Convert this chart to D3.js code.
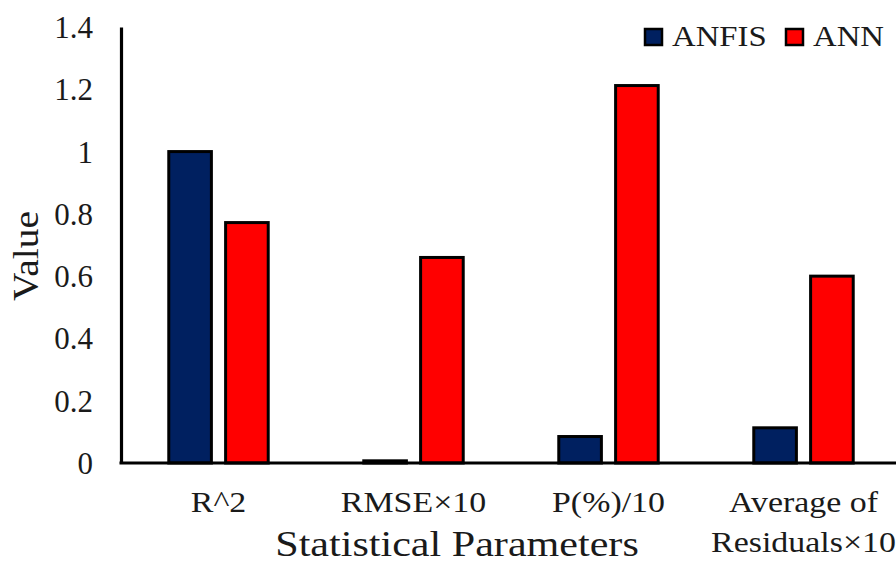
<!DOCTYPE html>
<html>
<head>
<meta charset="utf-8">
<script src="https://cdn.jsdelivr.net/npm/d3@7"></script>
<style>
  body { margin: 0; background: #fff; }
  text { font-family: "Liberation Serif", "Times New Roman", serif; fill: #1a1a1a; }
</style>
</head>
<body>
<script>
// chart data
var categories = ["R^2", "RMSE×10", "P(%)/10", "Average of\nResiduals×10"];
var series = ["ANFIS", "ANN"];
var anfisValues = [1.0, 0.007, 0.085, 0.113];
var annValues = [0.772, 0.66, 1.212, 0.60];
var yTicks = [0, 0.2, 0.4, 0.6, 0.8, 1.0, 1.2, 1.4];
var colors = {ANFIS: "#002060", ANN: "#ff0000"};

var W = 896, H = 561;
var plotLeft = 121, plotRight = 901, plotTop = 27, plotBottom = 463;
var stretch = 1.13; // text in the source is a little wide

var rows = categories.map(function(c, i) {
  return {cat: c, ANFIS: anfisValues[i], ANN: annValues[i]};
});

var svg = d3.select("body").append("svg")
    .attr("width", W)
    .attr("height", H);

var x = d3.scaleBand()
    .domain(categories)
    .range([plotLeft, plotRight])
    .paddingInner(0.49)
    .paddingOuter(0.245);

var xs = d3.scaleBand()
    .domain(series)
    .range([0, x.bandwidth()])
    .paddingInner(0.25);

var y = d3.scaleLinear()
    .domain([0, 1.4])
    .range([plotBottom, plotTop]);

//bars
var groups = svg.selectAll("g.grp")
    .data(rows).enter()
  .append("g")
    .attr("class", "grp")
    .attr("transform", function(d) { return "translate(" + x(d.cat) + ",0)"; });

groups.selectAll("rect")
    .data(function(d) { return series.map(function(s) { return {s: s, v: d[s]}; }); })
    .enter().append("rect")
    .attr("x", function(d) { return xs(d.s); })
    .attr("y", function(d) { return y(d.v); })
    .attr("width", xs.bandwidth())
    .attr("height", function(d) { return y(0) - y(d.v); })
    .attr("fill", function(d) { return colors[d.s]; })
    .attr("stroke", "#000")
    .attr("stroke-width", 3);

//y axis
var yAxis = svg.append("g")
    .attr("transform", "translate(" + plotLeft + ",0)")
    .call(d3.axisLeft(y).tickValues(yTicks).tickFormat(d3.format("~g"))
      .tickSize(0).tickSizeOuter(0).tickPadding(28));
yAxis.select(".domain").attr("stroke", "#000").attr("stroke-width", 3.2);
yAxis.selectAll("text")
    .attr("fill", "#1a1a1a")
    .style("font-family", "'Liberation Serif', serif")
    .style("font-size", "31px")
    .attr("dy", "0.34em");

//baseline
svg.append("line")
    .attr("x1", plotLeft - 1.5).attr("x2", W + 5)
    .attr("y1", y(0)).attr("y2", y(0))
    .attr("stroke", "#000")
    .attr("stroke-width", 3);

//category labels
var catLabels = svg.selectAll("text.cat")
    .data(categories).enter()
  .append("text")
    .attr("class", "cat")
    .attr("text-anchor", "middle")
    .style("font-size", "30px")
    .attr("transform", function(d) {
      return "translate(" + (x(d) + x.bandwidth() / 2) + ",512) scale(" + stretch + ",1)";
    });
catLabels.selectAll("tspan")
    .data(function(d) { return d.split("\n"); })
    .enter().append("tspan")
    .attr("x", 0)
    .attr("dy", function(d, i) { return i === 0 ? 0 : 40; })
    .text(function(d) { return d; });

//axis titles
svg.append("text")
    .attr("text-anchor", "middle")
    .style("font-size", "36px")
    .attr("transform", "translate(457,556) scale(1.17,1)")
    .text("Statistical Parameters");

svg.append("text")
    .attr("text-anchor", "middle")
    .style("font-size", "35px")
    .attr("transform", "translate(38,256) rotate(-90) scale(" + stretch + ",1)")
    .text("Value");

//legend
var legendX = [645, 786];
var legend = svg.selectAll("g.leg")
    .data(series).enter()
  .append("g")
    .attr("class", "leg")
    .attr("transform", function(d, i) { return "translate(" + legendX[i] + ",29)"; });

legend.append("rect")
    .attr("width", 17)
    .attr("height", 16)
    .attr("fill", function(d) { return colors[d]; })
    .attr("stroke", "#000")
    .attr("stroke-width", 2.5);

legend.append("text")
    .style("font-size", "29px")
    .attr("transform", "translate(27,16.5) scale(" + stretch + ",1)")
    .text(function(d) { return d; });
</script>
</body>
</html>
